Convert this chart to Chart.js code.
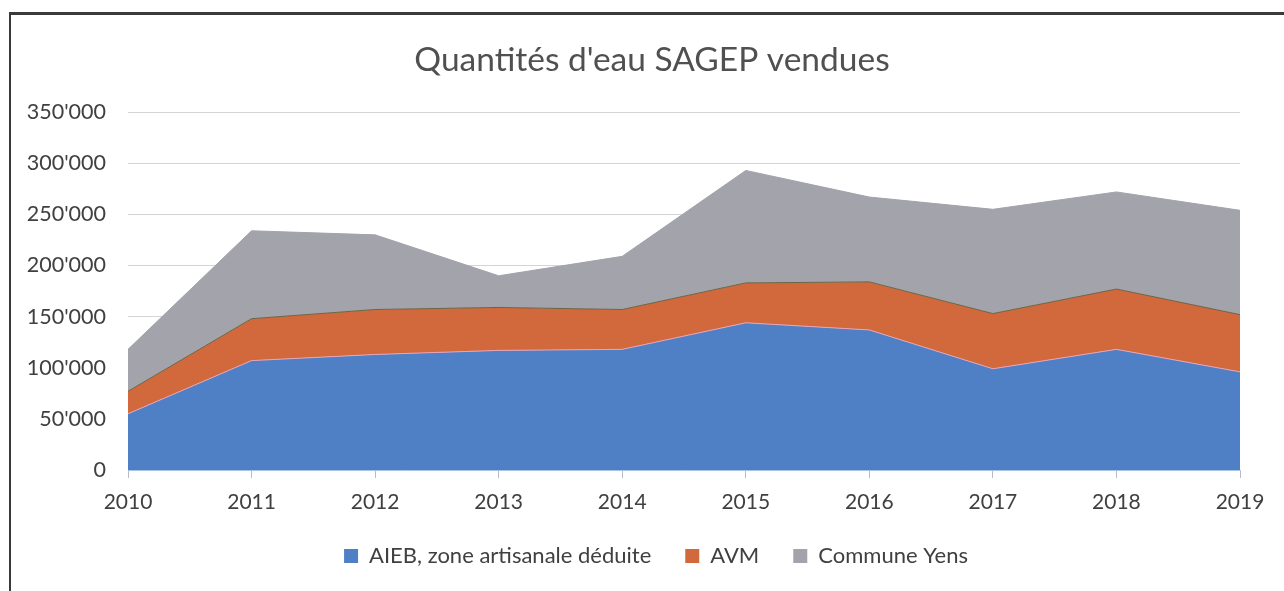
<!DOCTYPE html>
<html>
<head>
<meta charset="utf-8">
<script src="https://cdn.jsdelivr.net/npm/chart.js@4.4.0/dist/chart.umd.min.js"></script>
<style>
  html, body { margin: 0; padding: 0; background: #fff; }
  #wrap { position: relative; width: 1284px; height: 591px; }
  #frame { position: absolute; left: 9px; top: 12px; right: -10px; bottom: -10px;
           border-top: 3px solid #3a3a3a; border-left: 2px solid #3a3a3a; pointer-events: none; }
</style>
</head>
<body>
<div id="wrap">
  <canvas id="chart" width="1284" height="591"></canvas>
  <div id="frame"></div>
</div>
<script>
// values
var years = ['2010', '2011', '2012', '2013', '2014', '2015', '2016', '2017', '2018', '2019'];
var aieb = [55000, 107000, 113000, 117000, 118000, 144000, 137000, 99000, 118000, 96000];
var avm = [22000, 41000, 44000, 42000, 39000, 39000, 47000, 54000, 59000, 56000];
var yens = [41000, 86000, 73000, 31000, 52000, 110000, 83000, 102000, 95000, 102000];

var fontFam = 'Lato, "Open Sans", sans-serif';

function fmt(v) {
    return String(v).replace(/\B(?=(\d{3})+(?!\d))/g, "'");
}

// title and legend sit a bit right of the plot centre in the original
var shiftBoxes = {
    id: 'shiftBoxes',
    afterLayout: function(c) {
        c.titleBlock.left += 26;
        c.titleBlock.right += 26;
        c.legend.left += 30;
        c.legend.right += 30;
    }
};

var chart = new Chart(document.getElementById('chart'), {
    type: 'line',
    data: {
        labels: years,
        datasets: [{
            label: 'AIEB, zone artisanale déduite',
            data: aieb,
            backgroundColor: '#4f80c6',
            borderColor: '#e9a3b5',
            borderWidth: 1,
            fill: 'origin'
        }, {
            label: 'AVM',
            data: avm,
            backgroundColor: '#d2693d',
            borderColor: '#6b6545',
            borderWidth: 1,
            fill: '-1'
        }, {
            label: 'Commune Yens',
            data: yens,
            backgroundColor: '#a3a3ab',
            borderColor: '#a3a3ab',
            borderWidth: 1,
            fill: '-1'
        }]
    },
    plugins: [shiftBoxes],
    options: {
        responsive: false,
        animation: false,
        elements: { point: { radius: 0 }, line: { tension: 0 } },
        layout: { padding: { left: 12, right: 44, top: 0, bottom: 14 } },
        plugins: {
            title: {
                display: true,
                text: "Quantités d'eau SAGEP vendues",
                color: '#505050',
                font: { family: fontFam, size: 33.5, weight: 'normal' },
                padding: { top: 40, bottom: 32 }
            },
            legend: {
                position: 'bottom',
                labels: {
                    color: '#404040',
                    font: { family: fontFam, size: 22 },
                    boxWidth: 14,
                    boxHeight: 14,
                    padding: 34,
                    generateLabels: function(c) {
                        var items = Chart.defaults.plugins.legend.labels.generateLabels(c);
                        items.forEach(function(it) {
                            it.strokeStyle = it.fillStyle;
                            it.lineWidth = 0;
                        });
                        return items;
                    }
                }
            },
            tooltip: { enabled: false }
        },
        scales: {
            x: {
                offset: false,
                grid: { display: true, drawOnChartArea: false, tickLength: 8, color: '#b8bcc8' },
                border: { color: '#a9c4e4' },
                ticks: { color: '#404040', font: { family: fontFam, size: 21 }, padding: 12, maxRotation: 0 },
                afterFit: function(s) { s.height = 41; }
            },
            y: {
                stacked: true,
                min: 0,
                max: 350000,
                grid: { color: '#d4d4d8', drawTicks: false },
                border: { display: false },
                ticks: {
                    stepSize: 50000,
                    color: '#404040',
                    padding: 22,
                    font: { family: fontFam, size: 21.5 },
                    callback: function(v) { return fmt(v); }
                },
                afterFit: function(s) { s.width = 116; }
            }
        }
    }
});
</script>
</body>
</html>
